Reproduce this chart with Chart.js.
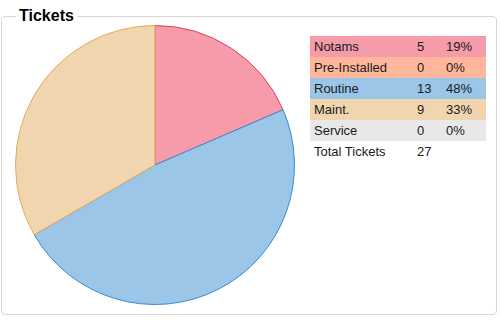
<!DOCTYPE html>
<html lang="en">
<head>
<meta charset="UTF-8">
<script src="https://cdn.jsdelivr.net/npm/chart.js"></script>
<title>Tickets</title>
<style>
    body { margin: 0; font-family: "Liberation Sans", Arial, sans-serif; background: #fff; }
    fieldset {
        position: absolute; left: 1px; top: 8px; width: 496px; height: 307px;
        margin: 0; padding: 0; border: 1px solid #d6d6d6; border-radius: 4px; box-sizing: border-box;
    }
    legend { font-weight: bold; font-size: 16px; padding: 0 3px; margin-left: 14px; line-height: 16px; }
    #wrap { position: absolute; left: 15px; top: 25px; width: 280px; height: 280px; }
    table { position: absolute; left: 310px; top: 36px; border-collapse: collapse; font-size: 13px; width: 176px; table-layout: fixed; }
    td { height: 21px; padding: 0 0 0 4px; color: #1a1a1a; }
    col.l { width: 103px; }
    col.n { width: 29px; }
    col.p { width: 44px; }
</style>
</head>
<body>
<fieldset><legend>Tickets</legend></fieldset>
<div id="wrap"><canvas id="pie"></canvas></div>
<table id="tbl"><colgroup><col class="l"><col class="n"><col class="p"></colgroup></table>
<script>
const labels = ["Notams", "Pre-Installed", "Routine", "Maint.", "Service"];
const counts = [5, 0, 13, 9, 0];
const fills = ["rgb(245,155,170)", "rgb(255,183,155)", "rgb(155,198,232)", "rgb(240,213,174)", "rgb(232,232,232)"];
const borders = ["rgb(232,60,90)", "rgb(70,90,120)", "rgb(54,140,210)", "rgb(228,170,95)", "rgb(200,200,200)"];

const total = counts.reduce((a, b) => a + b, 0);

// table on the right
const tbl = document.getElementById("tbl");
labels.forEach((l, i) => {
    const tr = document.createElement("tr");
    tr.style.background = fills[i];
    const pct = Math.round(counts[i] / total * 100);
    tr.innerHTML = `<td>${l}</td><td>${counts[i]}</td><td>${pct}%</td>`;
    tbl.appendChild(tr);
});
const tr = document.createElement("tr");
tr.innerHTML = `<td>Total Tickets</td><td>${total}</td><td></td>`;
tbl.appendChild(tr);

new Chart(document.getElementById("pie"), {
    type: "pie",
    data: {
        labels: labels,
        datasets: [{
            data: counts,
            backgroundColor: fills,
            borderColor: borders,
            borderWidth: 1
        }]
    },
    options: {
        responsive: true,
        maintainAspectRatio: false,
        animation: false,
        plugins: { legend: { display: false }, tooltip: { enabled: false } }
    }
});
</script>
</body>
</html>
